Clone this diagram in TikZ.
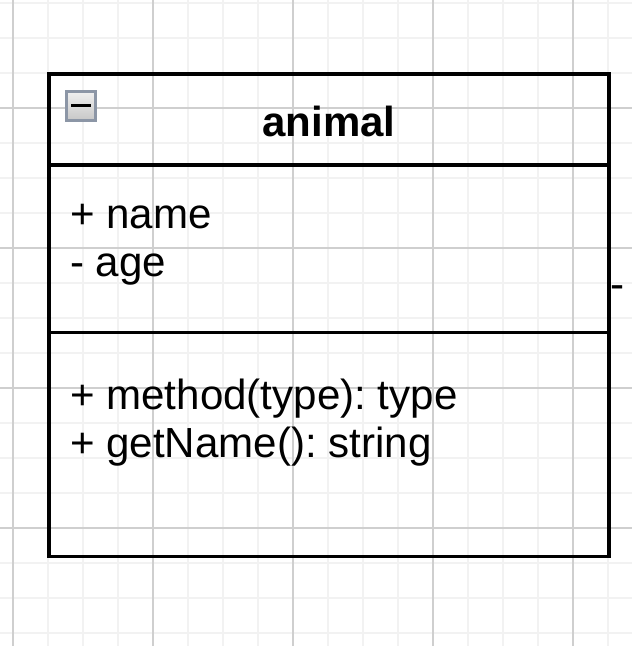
\documentclass[tikz,border=0pt]{standalone}
\usepackage{fontspec}
\setmainfont{Liberation Sans}
\frenchspacing
\begin{document}
\begin{tikzpicture}[x=1pt,y=-1pt,
  minorgrid/.style={draw=black!5,line width=1.2pt},
  majorgrid/.style={draw=black!19,line width=1.2pt},
  umlline/.style={draw=black,line width=3.4pt},
  member/.style={anchor=base west,inner sep=0pt,font=\fontsize{42.1}{48}\selectfont},
  titletext/.style={anchor=base,inner sep=0pt,font=\fontsize{42}{48}\selectfont\bfseries}]
\useasboundingbox (0,0) rectangle (632,646);
\fill[white] (0,0) rectangle (632,646);
% grid
\foreach \x in {13,48,...,643} \draw[minorgrid] (\x,0) -- (\x,646);
\foreach \y in {3,38,...,646} \draw[minorgrid] (0,\y) -- (632,\y);
\foreach \x in {13,153,293,433,573} \draw[majorgrid] (\x,0) -- (\x,646);
\foreach \y in {108,248,388,528} \draw[majorgrid] (0,\y) -- (632,\y);
% class box
\coordinate (tl) at (49,74);
\coordinate (br) at (609,556.5);
\coordinate (d1l) at (49,165);
\coordinate (d1r) at (609,165);
\coordinate (d2l) at (49,332.7);
\coordinate (d2r) at (609,332.7);
\draw[umlline,line join=miter] (tl) rectangle (br);
\draw[umlline] (d1l) -- (d1r);
\draw[umlline] (d2l) -- (d2r);
% collapse icon
\shade[top color=black!6,bottom color=black!22] (66.5,91.5) rectangle (95.5,120.5);
\draw[draw={rgb,255:red,140;green,150;blue,166},line width=3pt] (66.5,91.5) rectangle (95.5,120.5);
\draw[black,line width=3.2pt] (71,105.3) -- (90.5,105.3);
% texts
\node[titletext] (title) at (329,136) {animal};
\node[member] (attr1) at (70,228) {+ name};
\node[member] (attr2) at (70,276) {- age};
\node[member] (meth1) at (70,409) {+ method(type): type};
\node[member] (meth2) at (70,457) {+ getName(): string};
\node[member] (dash) at (610,298) {-};
\end{tikzpicture}
\end{document}
